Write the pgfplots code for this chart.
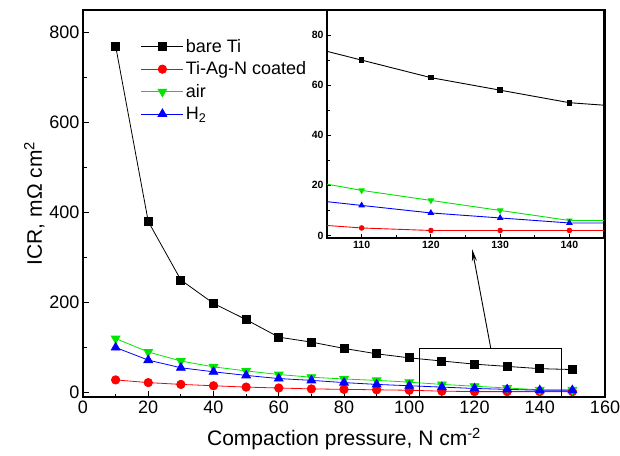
\documentclass[border=0pt]{standalone}
\usepackage{pgfplots}
\pgfplotsset{compat=1.18}
\usepackage{fontspec}
\setmainfont{Liberation Sans}
\usetikzlibrary{arrows.meta}

\definecolor{cgreen}{RGB}{0,230,0}

\pgfplotstableread{
x    bare  tiagn  air  htwo
10   770   28     120  100
20   380   22     90   72
30   250   18     70   55
40   198   15     57   46
50   162   12     48   38
60   123   10     40   31
70   112   8      34   27
80   98    7      30   22
90   86    6      27   18
100  77    5      23   15
110  70    3      18   12
120  63    2      14   9
130  58    2      10   7
140  53    2      6    5
150  51    2      6    5
}\icrdata

\begin{document}
\begin{tikzpicture}
\path[use as bounding box] (-83pt,-58pt) rectangle (537pt,397pt);

% main plot
\begin{axis}[
    scale only axis,
    width=522pt, height=387pt,
    xmin=0, xmax=160,
    ymin=-10, ymax=850,
    xtick={0,20,...,160},
    ytick={0,200,...,800},
    minor xtick={10,30,...,150},
    minor ytick={100,300,...,700},
    tick align=inside,
    major tick length=6pt,
    minor tick length=3.5pt,
    xtick pos=bottom, ytick pos=left,
    axis line style={line width=1.2pt},
    tick style={line width=0.9pt, black},
    /pgf/number format/assume math mode=true,
    tick label style={font=\fontsize{18}{21}\selectfont},
    label style={font=\fontsize{21}{24}\selectfont},
    xlabel={Compaction pressure, N cm\textsuperscript{-2}},
    ylabel={ICR, mΩ cm\textsuperscript{2}},
    xlabel style={yshift=-8pt},
    ylabel style={yshift=-2pt},
    legend cell align=left,
    legend style={draw=none, fill=none, at={(0.105,0.935)}, anchor=north west,
        font=\fontsize{18}{21}\selectfont, row sep=4pt},
    legend image code/.code={
        \draw[mark repeat=2,mark phase=2] plot coordinates {(0pt,0pt) (21pt,0pt) (42pt,0pt)};
    },
    every axis plot/.append style={line width=0.8pt},
]
\addplot[black, mark=square*, mark size=4pt] table[x=x, y=bare] {\icrdata};
\addlegendentry{bare Ti}
\addplot[red, mark=*, mark size=4.2pt] table[x=x, y=tiagn] {\icrdata};
\addlegendentry{Ti-Ag-N coated}
\addplot[cgreen, mark=triangle*, mark size=5pt, mark options={rotate=180, fill=cgreen}] table[x=x, y=air] {\icrdata};
\addlegendentry{air}
\addplot[blue, mark=triangle*, mark size=5pt] table[x=x, y=htwo] {\icrdata};
\addlegendentry{H\textsubscript{2}}

\draw[line width=0.9pt] (axis cs:103,-10) rectangle (axis cs:146.5,98);
\draw[line width=0.9pt, -{Stealth[length=12pt,width=5pt]}] (axis cs:125,98) -- (axis cs:119.3,318);
\end{axis}

% inset
\begin{axis}[
    at={(244pt,159pt)}, anchor=south west,
    scale only axis,
    width=277pt, height=228pt,
    xmin=105, xmax=145,
    ymin=-1, ymax=90,
    xtick={110,120,130,140},
    ytick={0,20,...,80},
    minor xtick={105,115,...,145},
    minor ytick={10,30,50,70},
    tick align=inside,
    major tick length=4pt,
    minor tick length=2.5pt,
    xtick pos=bottom, ytick pos=left,
    axis line style={line width=1.2pt},
    tick style={line width=0.8pt, black},
    axis background/.style={fill=white},
    /pgf/number format/assume math mode=true,
    tick label style={font=\fontsize{10.5}{12}\selectfont\bfseries},
    every axis plot/.append style={line width=0.9pt},
]
\addplot[black, mark=square*, mark size=2.3pt] table[x=x, y=bare] {\icrdata};
\addplot[red, mark=*, mark size=2.3pt] table[x=x, y=tiagn] {\icrdata};
\addplot[cgreen, mark=triangle*, mark size=3pt, mark options={rotate=180, fill=cgreen}] table[x=x, y=air] {\icrdata};
\addplot[blue, mark=triangle*, mark size=3pt] table[x=x, y=htwo] {\icrdata};
\end{axis}
\end{tikzpicture}
\end{document}
